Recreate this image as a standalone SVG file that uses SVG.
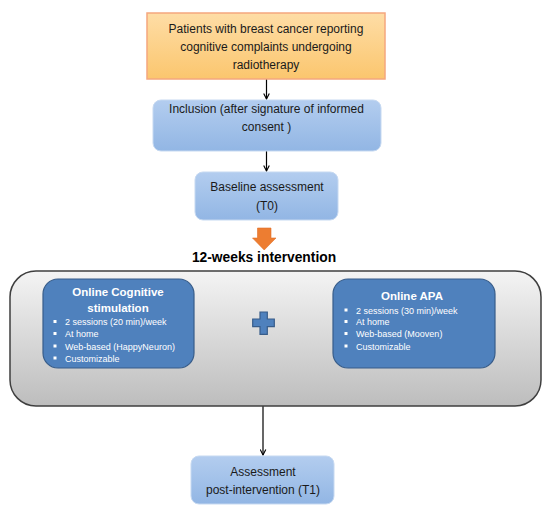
<svg xmlns="http://www.w3.org/2000/svg" width="550" height="512" viewBox="0 0 550 512">
<defs>
<linearGradient id="gOrange" x1="0" y1="0" x2="0" y2="1">
<stop offset="0" stop-color="#fedda6"/>
<stop offset="1" stop-color="#fbc66e"/>
</linearGradient>
<linearGradient id="gLight" x1="0" y1="0" x2="0" y2="1">
<stop offset="0" stop-color="#b3cdef"/>
<stop offset="1" stop-color="#92b6e4"/>
</linearGradient>
<linearGradient id="gGray" x1="0" y1="0" x2="0" y2="1">
<stop offset="0" stop-color="#f4f4f4"/>
<stop offset="1" stop-color="#bdbdbd"/>
</linearGradient>
<marker id="arr" viewBox="0 0 10 10" refX="9" refY="5" markerWidth="7" markerHeight="7" orient="auto" markerUnits="userSpaceOnUse">
<path d="M1,1 L9,5 L1,9" fill="none" stroke="#000" stroke-width="1.6"/>
</marker>
</defs>
<style>
.t{font-family:"Liberation Sans",Arial,sans-serif;font-size:12px;fill:#1a1a1a;text-anchor:middle}
.h{font-family:"Liberation Sans",Arial,sans-serif;font-size:11.5px;font-weight:bold;fill:#fff;text-anchor:middle}
.b{font-family:"Liberation Sans",Arial,sans-serif;font-size:9px;fill:#fff}
.light{fill:url(#gLight);stroke:#c6d9f1;stroke-width:1}
.blue{fill:#4f81bd;stroke:#385d8a;stroke-width:1.2}
.conn{stroke:#000;stroke-width:1.2;fill:none}
</style>

<g id="connectors">
<line class="conn" x1="266.5" y1="79" x2="266.5" y2="99" marker-end="url(#arr)"/>
<line class="conn" x1="266.5" y1="151" x2="266.5" y2="171" marker-end="url(#arr)"/>
<line class="conn" x1="263" y1="406" x2="263" y2="455" marker-end="url(#arr)"/>
<path id="orange-arrow" d="M257.5,228 L271,228 L271,238 L276,238 L264.2,250 L252.5,238 L257.5,238 Z" fill="#ed7d31" stroke="#e07028" stroke-width="0.6"/>
</g>

<g id="node-patients">
<rect x="147" y="13" width="238" height="66" fill="url(#gOrange)" stroke="#f5a77e" stroke-width="1.5"/>
<text class="t" x="266" y="33" font-size="12.5">Patients with breast cancer reporting</text>
<text class="t" x="266" y="51" font-size="12.5">cognitive complaints undergoing</text>
<text class="t" x="266" y="69" font-size="12.5">radiotherapy</text>
</g>

<g id="node-inclusion">
<rect class="light" x="153" y="100" width="228" height="51" rx="8"/>
<text class="t" x="266.5" y="112.5" font-size="12.5">Inclusion (after signature of informed</text>
<text class="t" x="266.5" y="130.5" font-size="12.5">consent )</text>
</g>

<g id="node-baseline">
<rect class="light" x="195" y="172" width="143" height="48" rx="8"/>
<text class="t" x="267" y="191">Baseline assessment</text>
<text class="t" x="267" y="210">(T0)</text>
</g>

<g id="label-intervention">
<text x="264" y="262" font-family="'Liberation Sans',Arial,sans-serif" font-size="13.8" font-weight="bold" fill="#000" text-anchor="middle">12-weeks intervention</text>
</g>

<g id="node-intervention">
<rect x="10" y="271" width="531" height="135" rx="26" fill="url(#gGray)" stroke="#3f3f3f" stroke-width="1.5"/>
</g>

<g id="node-cognitive">
<rect class="blue" x="43" y="279" width="151" height="89" rx="15"/>
<text class="h" x="118" y="296">Online Cognitive</text>
<text class="h" x="118" y="312">stimulation</text>
<rect x="53.5" y="320" width="3" height="3" fill="#fff"/>
<rect x="53.5" y="332" width="3" height="3" fill="#fff"/>
<rect x="53.5" y="344.5" width="3" height="3" fill="#fff"/>
<rect x="53.5" y="356.5" width="3" height="3" fill="#fff"/>
<text class="b" x="65" y="325">2 sessions (20 min)/week</text>
<text class="b" x="65" y="337">At home</text>
<text class="b" x="65" y="349.5">Web-based (HappyNeuron)</text>
<text class="b" x="65" y="361.5">Customizable</text>
</g>

<g id="node-plus">
<path d="M260,312 L267.3,312 L267.3,319 L274.3,319 L274.3,326.7 L267.3,326.7 L267.3,334.3 L260,334.3 L260,326.7 L252.7,326.7 L252.7,319 L260,319 Z" fill="#4f81bd" stroke="#385d8a" stroke-width="1.2"/>
</g>

<g id="node-apa">
<rect class="blue" x="333" y="279" width="162" height="89" rx="15"/>
<text class="h" x="412" y="299.5">Online APA</text>
<rect x="344.5" y="308.5" width="3" height="3" fill="#fff"/>
<rect x="344.5" y="320" width="3" height="3" fill="#fff"/>
<rect x="344.5" y="332" width="3" height="3" fill="#fff"/>
<rect x="344.5" y="344.5" width="3" height="3" fill="#fff"/>
<text class="b" x="356" y="313.5">2 sessions (30 min)/week</text>
<text class="b" x="356" y="325">At home</text>
<text class="b" x="356" y="337">Web-based (Mooven)</text>
<text class="b" x="356" y="349.5">Customizable</text>
</g>

<g id="node-assessment">
<rect class="light" x="191" y="456" width="143" height="48" rx="8"/>
<text class="t" x="263" y="476">Assessment</text>
<text class="t" x="263" y="494">post-intervention (T1)</text>
</g>
</svg>
